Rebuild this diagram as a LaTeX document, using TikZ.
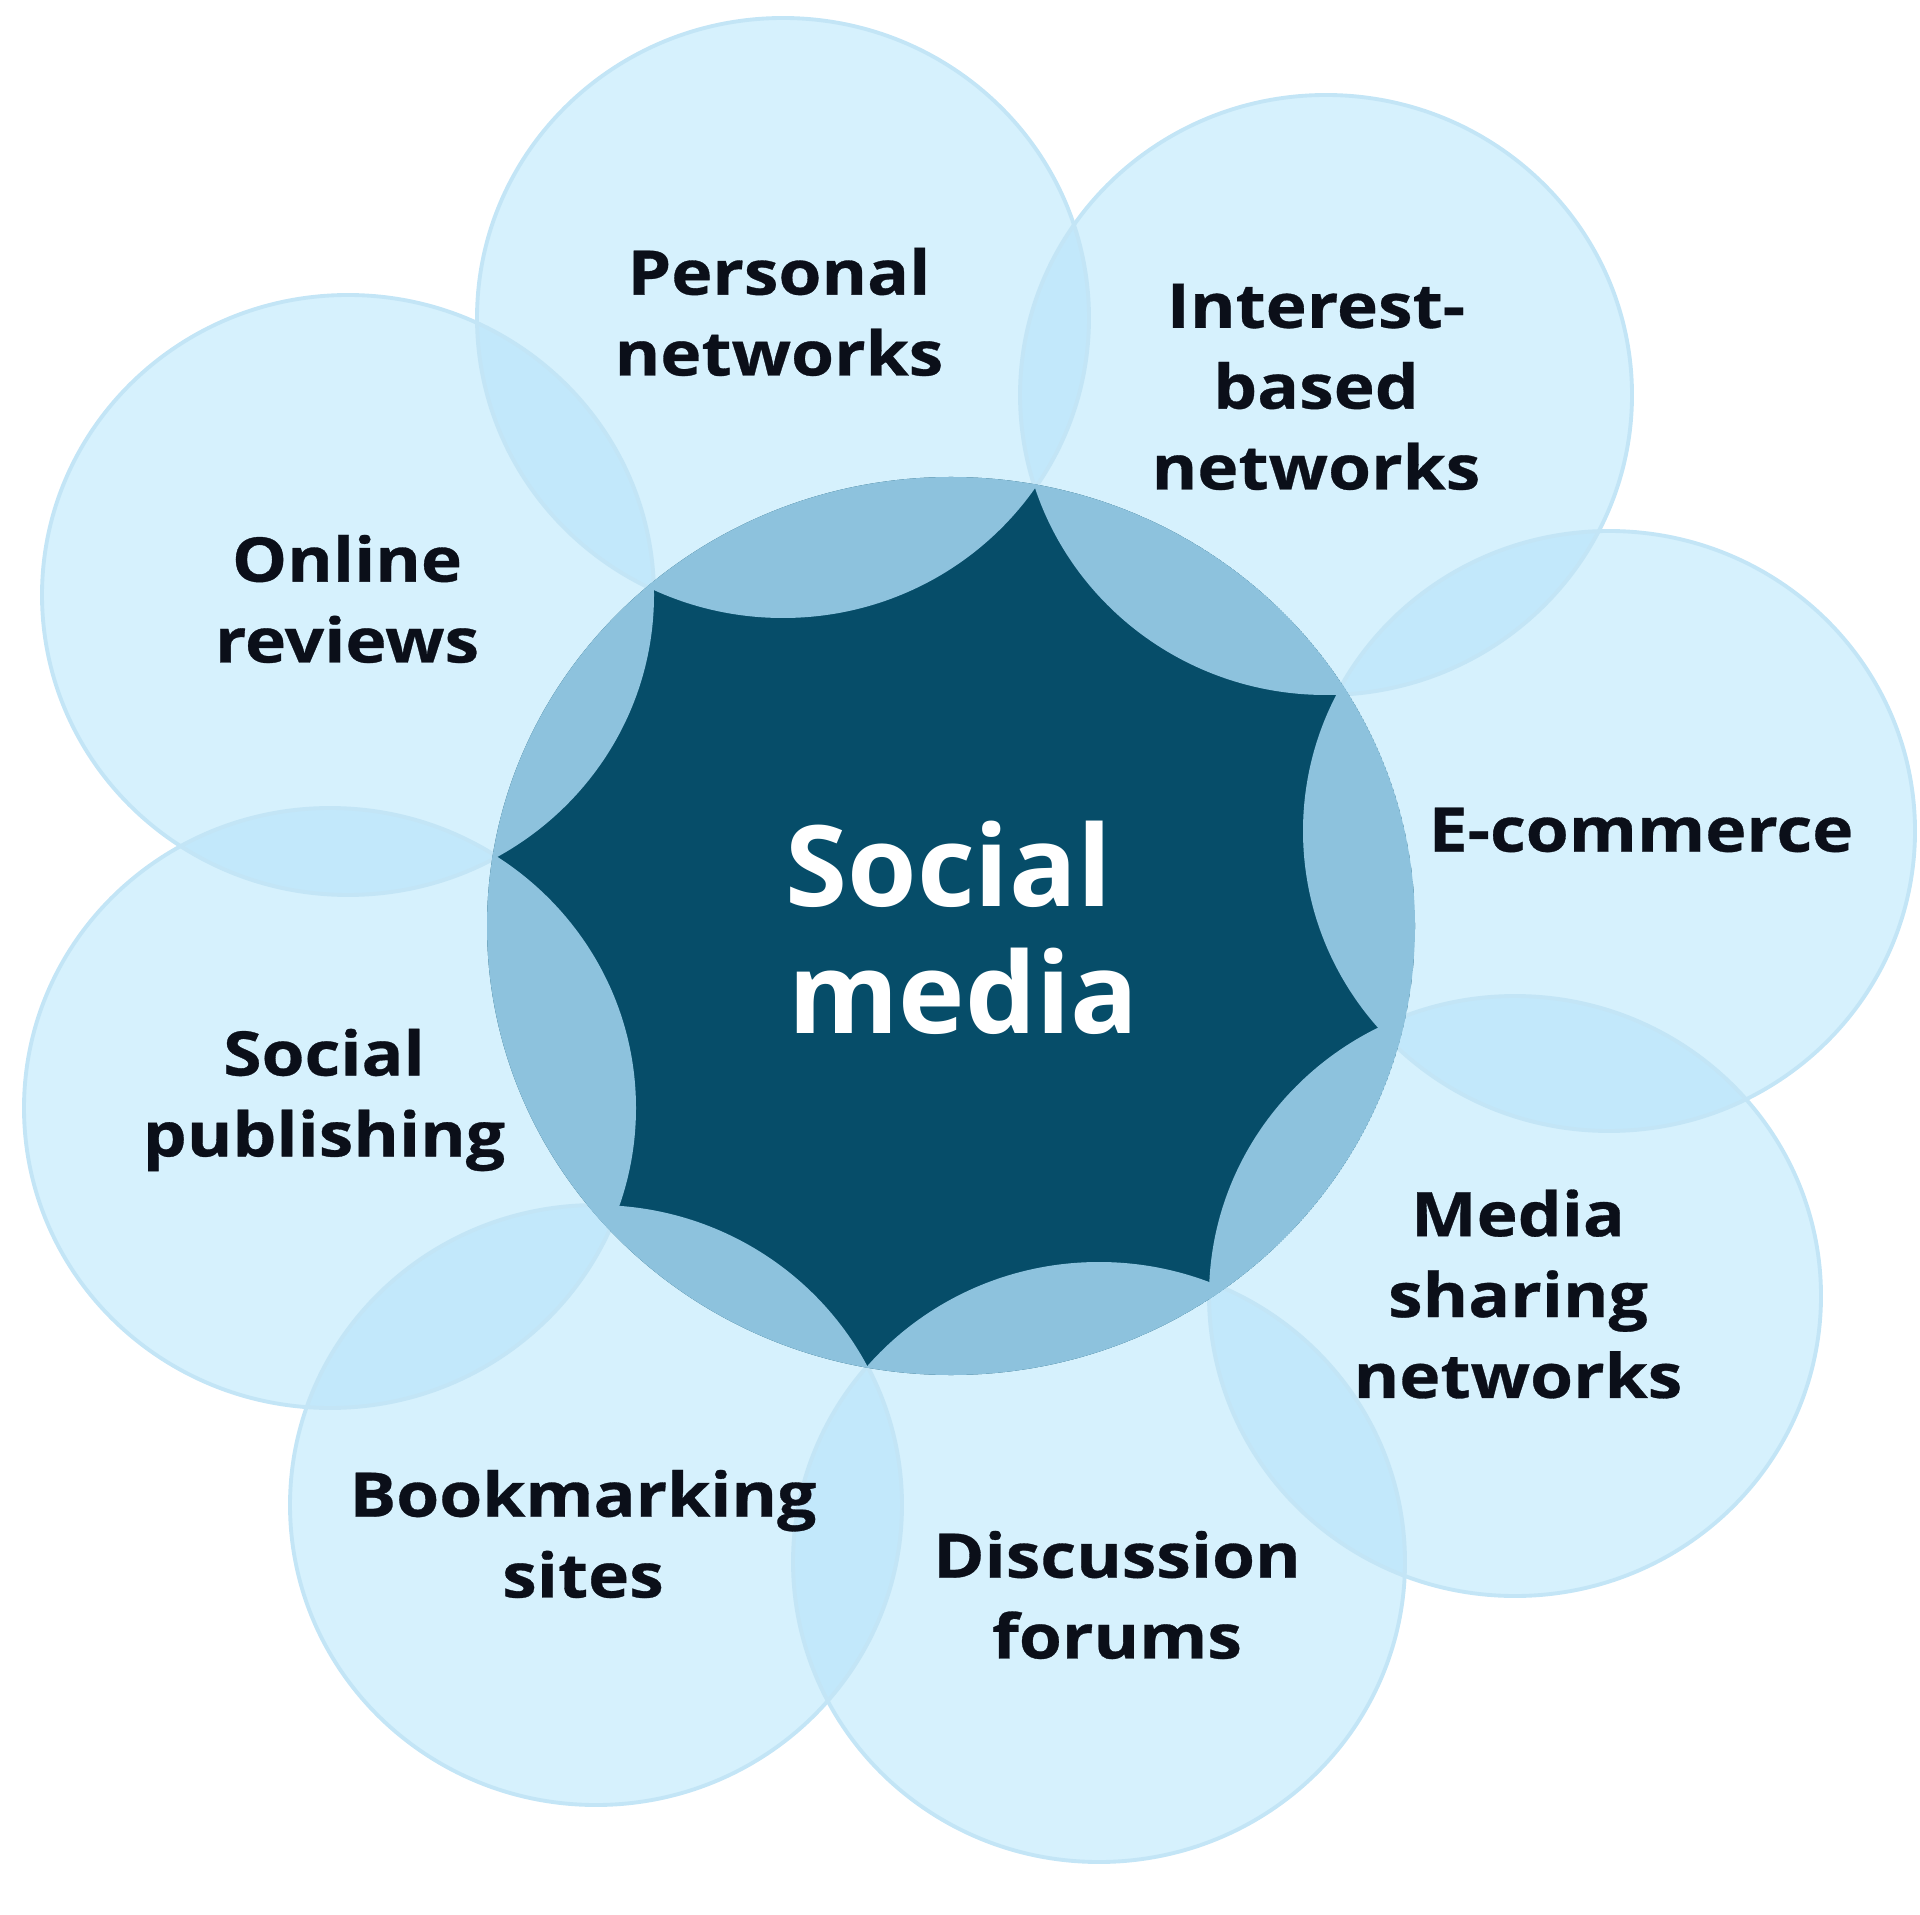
\documentclass[tikz,border=0pt]{standalone}
\usepackage{fontspec}
\setmainfont{Open Sans}
\newfontfamily\lblfont{Open Sans}[FakeStretch=1.13, FakeBold=0.5]
\definecolor{lightc}{HTML}{D6F1FD}
\definecolor{overc}{HTML}{C2E8FB}
\definecolor{linec}{HTML}{C3E5F6}
\definecolor{medc}{HTML}{8DC2DD}
\definecolor{darkc}{HTML}{064D69}
\definecolor{textc}{HTML}{0B0F19}
\tikzset{
  outerc/.style={x radius=3.06, y radius=3.0},
  centerc/.style={x radius=4.64, y radius=4.49},
  lbl/.style={font=\lblfont\fontsize{17.5}{23}\selectfont\bfseries, text=textc, align=center, inner sep=0pt},
  mainlbl/.style={font=\fontsize{32}{36}\selectfont\bfseries, text=white, align=center, inner sep=0pt}
}
\begin{document}
\begin{tikzpicture}
\useasboundingbox (0,0) rectangle (19.2,-19.15);
\coordinate (c1) at (7.83,-3.18);
\coordinate (c2) at (13.26,-3.95);
\coordinate (c3) at (16.09,-8.31);
\coordinate (c4) at (15.15,-12.96);
\coordinate (c5) at (10.99,-15.62);
\coordinate (c6) at (5.96,-15.05);
\coordinate (c7) at (3.30,-11.08);
\coordinate (c8) at (3.48,-5.95);
\coordinate (m) at (9.51,-9.26);
% outer circles
\foreach \i in {1,...,8} {\fill[lightc] (c\i) ellipse [outerc];}
% overlaps between neighbours
\foreach \i/\j in {1/2,2/3,3/4,4/5,5/6,6/7,7/8,8/1} {
  \begin{scope}
    \clip (c\i) ellipse [outerc];
    \fill[overc] (c\j) ellipse [outerc];
  \end{scope}
}
\foreach \i in {1,...,8} {\draw[linec, line width=1.1pt] (c\i) ellipse [outerc];}
% centre
\begin{scope}
  \clip (m) ellipse [centerc];
  \fill[darkc] (m) ellipse [centerc];
  \foreach \i in {1,...,8} {\fill[medc] (c\i) ellipse [outerc];}
\end{scope}
% labels
\node[mainlbl] (sm) at (9.56,-9.28) {\hspace*{-0.15cm}Social\\\hspace*{0.15cm}media};
\node[lbl] (l1) at (7.79,-3.12) {Personal\\networks};
\node[lbl] (l2) at (13.16,-3.87) {Interest-\\based\\networks};
\node[lbl] (l3) at (16.41,-8.30) {E-commerce};
\node[lbl] (l4) at (15.18,-12.94) {Media\\sharing\\networks};
\node[lbl] (l5) at (11.17,-15.95) {Discussion\\forums};
\node[lbl] (l6) at (5.83,-15.34) {Bookmarking\\sites};
\node[lbl] (l7) at (3.24,-11.00) {Social\\publishing};
\node[lbl] (l8) at (3.47,-5.99) {Online\\reviews};
\end{tikzpicture}
\end{document}
